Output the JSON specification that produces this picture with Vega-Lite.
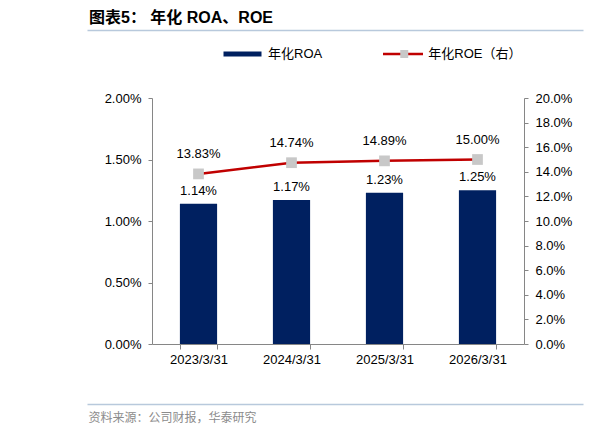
{
  "$schema": "https://vega.github.io/schema/vega-lite/v6.json",
  "width": 372,
  "height": 246,
  "autosize": {"type": "none"},
  "padding": {"left": 152, "top": 98, "right": 92, "bottom": 90},
  "background": "#ffffff",
  "config": {
    "view": {"stroke": null},
    "font": "Liberation Sans, Noto Sans CJK SC",
    "axis": {"labelFont": "Liberation Sans", "labelFontSize": 13, "labelColor": "#000000", "domainColor": "#868686", "tickColor": "#868686", "grid": false, "title": null},
    "legend": {"labelFont": "Liberation Sans, Noto Sans CJK SC", "labelFontSize": 13, "labelColor": "#000000", "padding": 0, "title": null}
  },
  "title": {
    "text": "图表5： 年化 ROA、ROE",
    "anchor": "start",
    "frame": "group",
    "dx": -63,
    "dy": 13,
    "offset": 4,
    "baseline": "alphabetic",
    "font": "Liberation Sans, Noto Sans CJK SC",
    "fontSize": 16,
    "fontWeight": "bold",
    "color": "#000000"
  },
  "data": {
    "values": [
      {"date": "2023/3/31", "ROA": 0.0114, "ROE": 0.1383},
      {"date": "2024/3/31", "ROA": 0.0117, "ROE": 0.1474},
      {"date": "2025/3/31", "ROA": 0.0123, "ROE": 0.1489},
      {"date": "2026/3/31", "ROA": 0.0125, "ROE": 0.1500}
    ]
  },
  "layer": [
    {
      "encoding": {
        "x": {
          "field": "date", "type": "nominal", "sort": null,
          "scale": {"type": "band", "paddingInner": 0.6, "paddingOuter": 0.3},
          "axis": {"labelAngle": 0, "tickBand": "extent", "tickSize": 5, "labelPadding": 4, "orient": "bottom"}
        }
      },
      "layer": [
        {
          "mark": {"type": "bar", "color": "#002060"},
          "encoding": {
            "y": {"field": "ROA", "type": "quantitative", "scale": {"domain": [0, 0.02], "nice": false}, "axis": {"orient": "left", "values": [0, 0.005, 0.01, 0.015, 0.02], "format": ".2%", "tickSize": 4, "labelPadding": 7}},
            "fill": {"datum": "年化ROA", "scale": {"range": ["#002060"]}, "legend": {"orient": "none", "legendX": 84, "legendY": -50.5, "symbolType": "M-3.8,-0.5H3.8V0.5H-3.8Z", "symbolSize": 100, "symbolStrokeWidth": 0, "labelOffset": 19}}
          }
        },
        {
          "mark": {"type": "text", "baseline": "middle", "dy": -13, "font": "Liberation Sans", "fontSize": 13, "color": "#000000"},
          "encoding": {
            "y": {"field": "ROA", "type": "quantitative", "scale": {"domain": [0, 0.02], "nice": false}, "axis": null},
            "text": {"field": "ROA", "type": "quantitative", "format": ".2%"}
          }
        },
        {
          "mark": {"type": "line", "strokeWidth": 2.5},
          "encoding": {
            "y": {"field": "ROE", "type": "quantitative", "scale": {"domain": [0, 0.2], "nice": false}, "axis": {"orient": "right", "values": [0, 0.02, 0.04, 0.06, 0.08, 0.1, 0.12, 0.14, 0.16, 0.18, 0.2], "format": ".1%", "tickSize": 4, "labelPadding": 7}},
            "stroke": {"datum": "年化ROE（右）", "scale": {"range": ["#C00000"]}, "legend": {"orient": "none", "legendX": 244.5, "legendY": -50.5, "symbolType": "M-4,0H4", "symbolSize": 100, "symbolStrokeWidth": 2.5, "symbolFillColor": "transparent", "labelOffset": 18.75}}
          }
        },
        {
          "mark": {"type": "point", "filled": true, "color": "#C8C8C8", "opacity": 1, "size": 115},
          "encoding": {
            "y": {"field": "ROE", "type": "quantitative", "scale": {"domain": [0, 0.2], "nice": false}, "axis": null},
            "shape": {"datum": "sq", "scale": {"range": ["square"]}, "legend": {"orient": "none", "legendX": 245.75, "legendY": -50.5, "symbolSize": 64, "symbolStrokeWidth": 0, "symbolFillColor": "#C8C8C8", "symbolOpacity": 1, "labelExpr": "''"}}
          }
        },
        {
          "mark": {"type": "text", "baseline": "middle", "dy": -20, "font": "Liberation Sans", "fontSize": 13, "color": "#000000"},
          "encoding": {
            "y": {"field": "ROE", "type": "quantitative", "scale": {"domain": [0, 0.2], "nice": false}, "axis": null},
            "text": {"field": "ROE", "type": "quantitative", "format": ".2%"}
          }
        }
      ],
      "resolve": {"scale": {"y": "independent"}}
    },
    {
      "mark": {"type": "point", "opacity": 0},
      "encoding": {
        "x": {"field": "date", "type": "nominal", "sort": null, "scale": {"range": [-65, 431]},
          "axis": {"orient": "top", "offset": 68, "domainColor": "#B8C9DC", "domainWidth": 1.5, "ticks": false, "labels": false, "title": null}}
      }
    },
    {
      "mark": {"type": "point", "opacity": 0},
      "encoding": {
        "x": {"field": "date", "type": "nominal", "sort": null, "scale": {"range": [-65, 431]},
          "axis": {"orient": "bottom", "offset": 60, "domainColor": "#B8C9DC", "domainWidth": 1.5, "ticks": false, "labels": false,
            "title": "资料来源：公司财报，华泰研究", "titleFont": "Noto Sans CJK SC", "titleFontSize": 12, "titleFontWeight": "normal", "titleColor": "#8C8C8C",
            "titleX": -64, "titleY": 13, "titleAlign": "left", "titleBaseline": "middle", "titleAnchor": "start"}}
      }
    }
  ],
  "resolve": {"scale": {"x": "independent", "y": "independent"}}
}
